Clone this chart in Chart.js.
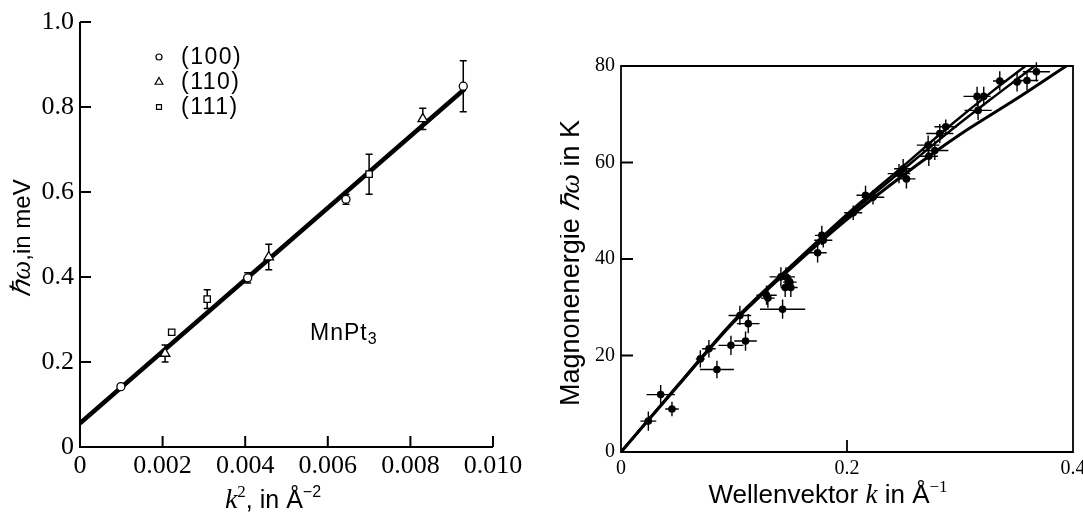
<!DOCTYPE html>
<html lang="de">
<head>
<meta charset="UTF-8">
<title>Magnonen</title>
<script src="https://cdn.jsdelivr.net/npm/chart.js"></script>
<style>
  html, body { margin: 0; padding: 0; background: #fff; overflow: hidden; }
  #links { position: absolute; left: 0; top: 0; }
  #rechts { position: absolute; left: 560px; top: 0; }
</style>
</head>
<body>
<canvas id="links" width="540" height="514"></canvas>
<canvas id="rechts" width="540" height="514"></canvas>
<script>
// --- linkes Diagramm: MnPt3, hw gegen k^2 ---
const k2_100 = [0.00099, 0.00406, 0.00644, 0.00928];
const hw_100 = [0.142, 0.398, 0.583, 0.849];
const err_100 = [0, 0.012, 0.012, 0.06];
const k2_110 = [0.00206, 0.00457, 0.0083];
const hw_110 = [0.220, 0.447, 0.772];
const err_110 = [0.02, 0.03, 0.025];
const k2_111 = [0.00222, 0.00308, 0.0070];
const hw_111 = [0.270, 0.348, 0.642];
const err_111 = [0, 0.022, 0.047];
const fitK2 = [0, 0.00932];
const fitHw = [0.056, 0.843];

// --- rechtes Diagramm: Magnonenenergie gegen k ---
const kWerte = [0.0242, 0.0351, 0.0451, 0.0702, 0.0778, 0.0849, 0.0973, 0.1052, 0.1102, 0.1126,
  0.1288, 0.1300, 0.1415, 0.1460, 0.1430, 0.1453, 0.1494, 0.1503, 0.1740, 0.1777,
  0.1790, 0.2055, 0.2164, 0.2230, 0.2460, 0.2526, 0.2497, 0.2724, 0.2718, 0.2777,
  0.2821, 0.2874, 0.3151, 0.3210, 0.3160, 0.3352, 0.3505, 0.3593, 0.3676];
const eWerte = [6.4, 11.9, 8.9, 19.3, 21.4, 17.1, 22.1, 28.3, 23.0, 26.6,
  32.5, 31.9, 36.3, 36.3, 29.6, 34.1, 35.2, 34.1, 41.3, 44.9,
  43.9, 49.6, 53.2, 52.8, 57.7, 56.6, 58.7, 61.3, 63.6, 62.5,
  66.0, 67.4, 73.7, 73.7, 70.8, 76.9, 76.7, 77.0, 78.8];
const dk = [0.007, 0.0125, 0.006, 0.004, 0.006, 0.015, 0.011, 0.010, 0.010, 0.010,
  0.009, 0.006, 0.010, 0.008, 0.020, 0.004, 0.006, 0.006, 0.008, 0.006,
  0.008, 0.008, 0.008, 0.010, 0.010, 0.008, 0.008, 0.008, 0.010, 0.012,
  0.012, 0.010, 0.012, 0.006, 0.012, 0.006, 0.004, 0.010, 0.012];
const dE = [2.0, 2.0, 1.5, 1.8, 1.8, 1.8, 2.0, 2.0, 2.0, 2.0,
  2.0, 2.0, 2.0, 2.0, 2.0, 2.0, 1.5, 2.0, 2.0, 2.0,
  1.5, 1.5, 2.0, 1.5, 2.0, 2.0, 2.0, 2.0, 2.0, 2.0,
  2.0, 1.5, 2.0, 2.0, 2.0, 2.0, 2.0, 2.0, 2.0];
const kurve1K = [0, 0.05, 0.10, 0.15, 0.20, 0.25, 0.29, 0.33, 0.358];
const kurve1E = [0, 13.8, 27.3, 38.5, 49.3, 59.3, 67.4, 75.0, 80];
const kurve2K = [0, 0.05, 0.10, 0.15, 0.20, 0.25, 0.29, 0.33, 0.366];
const kurve2E = [0, 13.7, 27.1, 38.2, 48.8, 58.6, 66.3, 73.6, 80];
const kurve3K = [0, 0.05, 0.10, 0.15, 0.20, 0.25, 0.30, 0.35, 0.394];
const kurve3E = [0, 13.6, 27.0, 38.0, 48.2, 57.4, 65.8, 73.2, 80];

const SERIF = 'Liberation Serif';
const SANS = 'Liberation Sans';
Chart.defaults.color = '#000';
Chart.defaults.font.family = SERIF;

function punkte(xs, ys) {
  return xs.map((x, i) => ({ x: x, y: ys[i] }));
}

// Text aus Teilen mit verschiedenen Schriften, zentriert
function zeichneText(ctx, teile, x, y, winkel) {
  ctx.save();
  ctx.translate(x, y);
  if (winkel) ctx.rotate(winkel);
  ctx.fillStyle = '#000';
  ctx.textBaseline = 'alphabetic';
  ctx.textAlign = 'left';
  let breite = 0;
  teile.forEach(t => { ctx.font = t[1]; breite += ctx.measureText(t[0]).width; });
  let pos = -breite / 2;
  teile.forEach(t => {
    ctx.font = t[1];
    ctx.fillText(t[0], pos, -(t[2] || 0));
    pos += ctx.measureText(t[0]).width;
  });
  ctx.restore();
}

// Fehlerbalken aus den Datensätzen
const fehlerbalken = {
  id: 'fehlerbalken',
  beforeDatasetsDraw(chart) {
    const ctx = chart.ctx, xs = chart.scales.x, ys = chart.scales.y;
    chart.data.datasets.forEach(ds => {
      if (!ds.errY) return;
      ctx.save();
      ctx.strokeStyle = '#000';
      ctx.lineWidth = ds.errBreite || 1.5;
      ctx.beginPath();
      ds.data.forEach((p, i) => {
        const px = xs.getPixelForValue(p.x), py = ys.getPixelForValue(p.y);
        const ey = ds.errY[i];
        if (ey > 0) {
          const y1 = ys.getPixelForValue(p.y - ey), y2 = ys.getPixelForValue(p.y + ey);
          ctx.moveTo(px, y1); ctx.lineTo(px, y2);
          if (ds.kappe) {
            ctx.moveTo(px - ds.kappe, y1); ctx.lineTo(px + ds.kappe, y1);
            ctx.moveTo(px - ds.kappe, y2); ctx.lineTo(px + ds.kappe, y2);
          }
        }
        if (ds.errX && ds.errX[i] > 0) {
          ctx.moveTo(xs.getPixelForValue(p.x - ds.errX[i]), py);
          ctx.lineTo(xs.getPixelForValue(p.x + ds.errX[i]), py);
        }
      });
      ctx.stroke();
      ctx.restore();
    });
  }
};

// Achsenlinien und nach innen zeigende Striche
const achsen = {
  id: 'achsen',
  afterDraw(chart, args, opts) {
    const ctx = chart.ctx, a = chart.chartArea, xs = chart.scales.x, ys = chart.scales.y;
    ctx.save();
    ctx.strokeStyle = '#000';
    ctx.lineWidth = opts.breite;
    ctx.beginPath();
    if (opts.kasten) {
      ctx.rect(a.left, a.top, a.right - a.left, a.bottom - a.top);
    } else {
      ctx.moveTo(a.left, a.top); ctx.lineTo(a.left, a.bottom); ctx.lineTo(a.right, a.bottom);
    }
    ys.ticks.forEach(t => {
      const py = ys.getPixelForValue(t.value);
      ctx.moveTo(a.left, py); ctx.lineTo(a.left + opts.strich, py);
    });
    xs.ticks.forEach(t => {
      const px = xs.getPixelForValue(t.value);
      ctx.moveTo(px, a.bottom); ctx.lineTo(px, a.bottom - opts.strich);
    });
    ctx.stroke();
    ctx.restore();
  }
};

const linksText = {
  id: 'linksText',
  afterDraw(chart) {
    const ctx = chart.ctx, a = chart.chartArea, xs = chart.scales.x, ys = chart.scales.y;
    // Legende
    const zeilen = chart.data.datasets.filter(ds => ds.legende);
    zeilen.forEach((ds, i) => {
      const mx = a.left + 79, my = a.top + 35 + i * 25;
      ctx.save();
      ctx.strokeStyle = '#000'; ctx.fillStyle = '#fff'; ctx.lineWidth = 1.2;
      Chart.helpers.drawPoint(ctx, { pointStyle: ds.pointStyle, radius: ds.legendeRadius, borderWidth: 1.2 }, mx, my);
      ctx.restore();
      ctx.save();
      ctx.fillStyle = '#000';
      ctx.font = '23px ' + SANS;
      ctx.letterSpacing = '1.5px';
      ctx.textBaseline = 'middle';
      ctx.fillText(ds.label, mx + 22, my + 1);
      ctx.restore();
    });
    // MnPt3
    ctx.save();
    ctx.fillStyle = '#000';
    ctx.textBaseline = 'alphabetic';
    ctx.letterSpacing = '1px';
    const tx = xs.getPixelForValue(0.00557), ty = ys.getPixelForValue(0.27) + 8;
    ctx.font = '23px ' + SANS;
    ctx.fillText('MnPt', tx, ty);
    const w = ctx.measureText('MnPt').width;
    ctx.font = '16px ' + SANS;
    ctx.fillText('3', tx + w, ty + 4);
    ctx.restore();
    // Achsentitel
    zeichneText(ctx, [['k', 'italic 28px ' + SERIF], ['2', '17px ' + SERIF, 11],
      [', in Å', '25px ' + SANS], ['\u22122', '16px ' + SANS, 11]], 273, 508);
    zeichneText(ctx, [['\u210Fω', 'italic 27px ' + SERIF], [',in meV', '24px ' + SANS]], 30, 238, -Math.PI / 2);
  }
};

const rechtsText = {
  id: 'rechtsText',
  afterDraw(chart) {
    const ctx = chart.ctx;
    zeichneText(ctx, [['Wellenvektor ', '26px ' + SANS], ['k', 'italic 27px ' + SERIF],
      [' in Å', '26px ' + SANS], ['\u22121', '17px ' + SERIF, 11]], 268, 503);
    zeichneText(ctx, [['Magnonenergie ', '27px ' + SANS], ['\u210Fω', 'italic 28px ' + SERIF],
      [' in K', '27px ' + SANS]], 19, 263, -Math.PI / 2);
  }
};

function markerSatz(label, xs, ys, err, stil, radius) {
  return {
    label: label, legende: true, data: punkte(xs, ys), errY: err, kappe: 3.5, errBreite: 1.5,
    pointStyle: stil, pointRadius: radius, legendeRadius: radius - 1, pointBackgroundColor: '#fff',
    pointBorderColor: '#000', pointBorderWidth: 1.3, showLine: false
  };
}

new Chart(document.getElementById('links'), {
  type: 'scatter',
  data: {
    datasets: [
      markerSatz('(100)', k2_100, hw_100, err_100, 'circle', 4),
      markerSatz('(110)', k2_110, hw_110, err_110, 'triangle', 5.5),
      markerSatz('(111)', k2_111, hw_111, err_111, 'rect', 4.5),
      { label: 'Fit', data: punkte(fitK2, fitHw), showLine: true, pointRadius: 0,
        borderColor: '#000', borderWidth: 4.5 }
    ]
  },
  options: {
    responsive: false,
    animation: false,
    layout: { padding: { left: 0, top: 22, right: 47, bottom: 0 } },
    plugins: {
      legend: { display: false },
      tooltip: { enabled: false },
      achsen: { kasten: false, breite: 2, strich: 11 }
    },
    scales: {
      x: {
        type: 'linear', min: 0, max: 0.010,
        grid: { display: false, drawTicks: false }, border: { display: false },
        ticks: { stepSize: 0.002, padding: 4, font: { family: SERIF, size: 26 },
          callback: v => v === 0 ? '0' : v.toFixed(3) },
        afterFit: s => { s.height = 67; }
      },
      y: {
        type: 'linear', min: 0, max: 1.0,
        grid: { display: false, drawTicks: false }, border: { display: false },
        ticks: { stepSize: 0.2, padding: 6, font: { family: SERIF, size: 26 },
          callback: v => v === 0 ? '0' : v.toFixed(1) },
        afterFit: s => { s.width = 80; }
      }
    }
  },
  plugins: [fehlerbalken, achsen, linksText]
});

new Chart(document.getElementById('rechts'), {
  type: 'scatter',
  data: {
    datasets: [
      { label: 'Messung', data: punkte(kWerte, eWerte), errY: dE, errX: dk, errBreite: 1.4,
        pointStyle: 'circle', pointRadius: 3.8, pointBackgroundColor: '#000', pointBorderColor: '#000',
        pointBorderWidth: 0, showLine: false },
      { label: 'Kurve 1', data: punkte(kurve1K, kurve1E), showLine: true, pointRadius: 0,
        borderColor: '#000', borderWidth: 2.5, cubicInterpolationMode: 'monotone' },
      { label: 'Kurve 2', data: punkte(kurve2K, kurve2E), showLine: true, pointRadius: 0,
        borderColor: '#000', borderWidth: 2.5, cubicInterpolationMode: 'monotone' },
      { label: 'Kurve 3', data: punkte(kurve3K, kurve3E), showLine: true, pointRadius: 0,
        borderColor: '#000', borderWidth: 3, cubicInterpolationMode: 'monotone' }
    ]
  },
  options: {
    responsive: false,
    animation: false,
    layout: { padding: { left: 0, top: 66, right: 27, bottom: 0 } },
    plugins: {
      legend: { display: false },
      tooltip: { enabled: false },
      achsen: { kasten: true, breite: 1.8, strich: 12 }
    },
    scales: {
      x: {
        type: 'linear', min: 0, max: 0.4,
        grid: { display: false, drawTicks: false }, border: { display: false },
        ticks: { stepSize: 0.2, padding: 5, font: { family: SERIF, size: 20 },
          callback: v => v === 0 ? '0' : v.toFixed(1) },
        afterFit: s => { s.height = 62; }
      },
      y: {
        type: 'linear', min: 0, max: 80,
        grid: { display: false, drawTicks: false }, border: { display: false },
        ticks: { stepSize: 20, padding: 6, font: { family: SERIF, size: 20 } },
        afterFit: s => { s.width = 61; }
      }
    }
  },
  plugins: [fehlerbalken, achsen, rechtsText]
});
</script>
</body>
</html>
